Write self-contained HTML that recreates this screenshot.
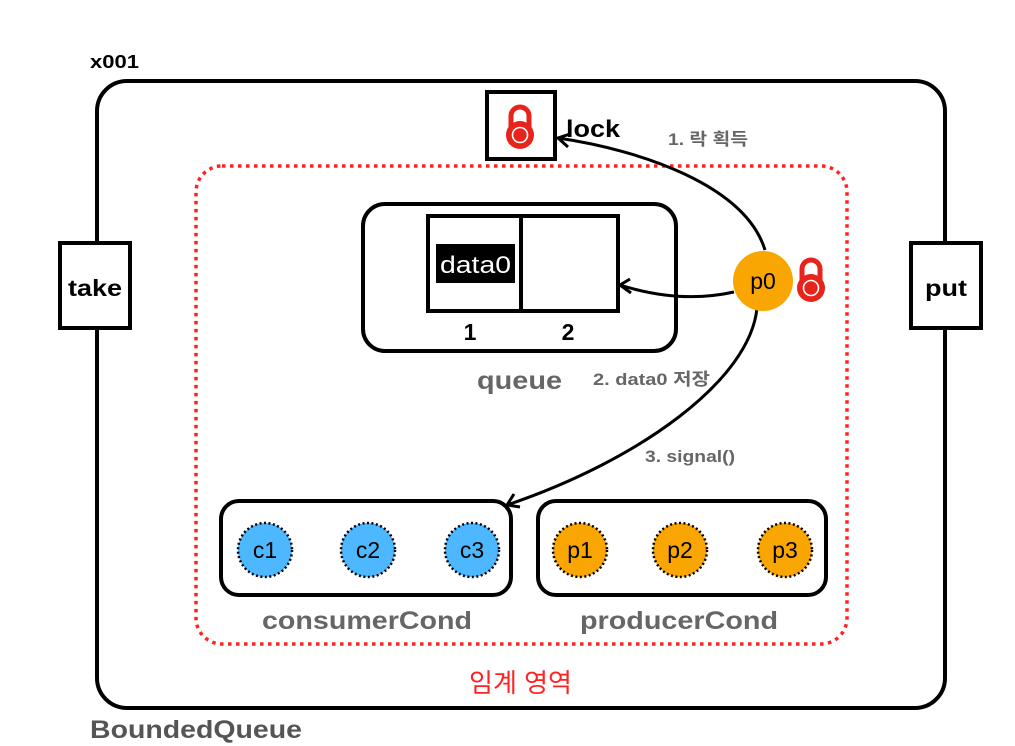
<!DOCTYPE html>
<html><head><meta charset="utf-8"><style>
html,body{margin:0;padding:0;background:#fff;}
svg{display:block;}
text{font-family:"Liberation Sans","Noto Sans CJK KR",sans-serif;}
</style></head><body>
<svg width="1015" height="746" viewBox="0 0 1015 746" xmlns="http://www.w3.org/2000/svg">
<defs>
<g id="lk">
<path d="M-9,0 V-12 A9,9 0 0 1 9,-12 V0" fill="none" stroke="#e8231b" stroke-width="5"/>
<circle cx="0" cy="7" r="14" fill="#e8231b"/>
<circle cx="0" cy="7" r="7.5" fill="none" stroke="#fff" stroke-width="1.6"/>
</g>
</defs>
<rect x="97" y="81" width="848" height="627" rx="30" fill="none" stroke="#000" stroke-width="4"/>
<text x="90" y="68" font-size="18" font-weight="bold" textLength="49" lengthAdjust="spacingAndGlyphs">x001</text>
<text x="90" y="738" font-size="25" font-weight="bold" fill="#555" textLength="212" lengthAdjust="spacingAndGlyphs">BoundedQueue</text>

<rect x="60" y="243" width="70" height="85" fill="#fff" stroke="#000" stroke-width="4"/>
<text x="68" y="296" font-size="23" font-weight="bold" textLength="54" lengthAdjust="spacingAndGlyphs">take</text>
<rect x="911" y="243" width="70" height="85" fill="#fff" stroke="#000" stroke-width="4"/>
<text x="925" y="296" font-size="23" font-weight="bold" textLength="42" lengthAdjust="spacingAndGlyphs">put</text>

<rect x="196" y="166" width="651" height="478" rx="26" fill="none" stroke="#f22" stroke-width="3.5" stroke-dasharray="3.5,4.5"/>
<text x="469" y="692" font-size="26" fill="#f22" textLength="103" lengthAdjust="spacingAndGlyphs">임계 영역</text>

<rect x="487" y="92" width="68" height="67" fill="#fff" stroke="#000" stroke-width="4"/>
<use href="#lk" x="520" y="128"/>
<text x="566" y="137" font-size="24" font-weight="bold" textLength="54" lengthAdjust="spacingAndGlyphs">lock</text>
<text x="668" y="145" font-size="17" font-weight="bold" fill="#666" textLength="80" lengthAdjust="spacingAndGlyphs">1. 락 획득</text>

<rect x="363" y="204" width="313" height="147" rx="22" fill="none" stroke="#000" stroke-width="4"/>
<rect x="428" y="216" width="190" height="95" fill="none" stroke="#000" stroke-width="4"/>
<line x1="521" y1="216" x2="521" y2="311" stroke="#000" stroke-width="4"/>
<rect x="436" y="244" width="79" height="39" fill="#000"/>
<text x="440" y="273" font-size="24" fill="#fff" textLength="71" lengthAdjust="spacingAndGlyphs">data0</text>
<text x="470" y="340" font-size="23" font-weight="bold" text-anchor="middle">1</text>
<text x="568" y="340" font-size="23" font-weight="bold" text-anchor="middle">2</text>
<text x="477" y="389" font-size="25" font-weight="bold" fill="#666" textLength="85" lengthAdjust="spacingAndGlyphs">queue</text>
<text x="593" y="385" font-size="17" font-weight="bold" fill="#666" textLength="117" lengthAdjust="spacingAndGlyphs">2. data0 저장</text>
<text x="645" y="462" font-size="17" font-weight="bold" fill="#666" textLength="90" lengthAdjust="spacingAndGlyphs">3. signal()</text>

<g fill="none" stroke="#000" stroke-width="3">
<path d="M765,250 C745,185 640,150 558,138"/>
<path d="M570,134 L558,138 L568,147"/>
<path d="M734,292 Q680,304 620,285"/>
<path d="M630,279 L620,285 L631,293"/>
<path d="M757,308 C750,380 640,460 507,505"/>
<path d="M514,494 L507,505 L520,507"/>
</g>
<circle cx="763" cy="281" r="30" fill="#f9a602"/>
<text x="763" y="289" font-size="23" text-anchor="middle">p0</text>
<use href="#lk" x="811" y="281"/>

<rect x="221" y="501" width="290" height="94" rx="18" fill="none" stroke="#000" stroke-width="4"/>
<rect x="538" y="501" width="288" height="94" rx="18" fill="none" stroke="#000" stroke-width="4"/>
<g stroke="#000" stroke-width="2.5" stroke-dasharray="2,2.5">
<circle cx="265" cy="550" r="27" fill="#4db8ff"/>
<circle cx="368" cy="550" r="27" fill="#4db8ff"/>
<circle cx="472" cy="550" r="27" fill="#4db8ff"/>
<circle cx="580" cy="550" r="27" fill="#f9a602"/>
<circle cx="680" cy="550" r="27" fill="#f9a602"/>
<circle cx="785" cy="550" r="27" fill="#f9a602"/>
</g>
<g font-size="23" text-anchor="middle">
<text x="265" y="558">c1</text><text x="368" y="558">c2</text><text x="472" y="558">c3</text>
<text x="580" y="558">p1</text><text x="680" y="558">p2</text><text x="785" y="558">p3</text>
</g>
<text x="262" y="629" font-size="25" font-weight="bold" fill="#666" textLength="210" lengthAdjust="spacingAndGlyphs">consumerCond</text>
<text x="580" y="629" font-size="25" font-weight="bold" fill="#666" textLength="198" lengthAdjust="spacingAndGlyphs">producerCond</text>
</svg>
</body></html>
